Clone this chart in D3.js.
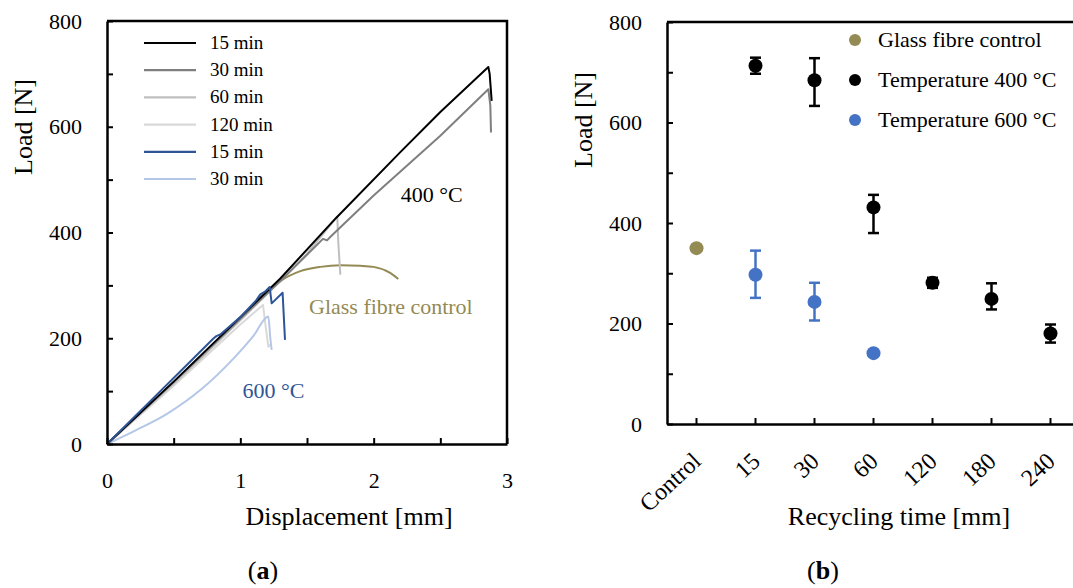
<!DOCTYPE html>
<html><head><meta charset="utf-8">
<script src="https://cdn.jsdelivr.net/npm/d3@7"></script>
<style>
body{margin:0;background:#fff;}
svg{display:block;font-family:'Liberation Serif','Times New Roman',serif;}
</style></head><body>
<svg id="chart" width="1073" height="588"></svg>
<script>
// ---------- Panel (a): load-displacement curves [displacement mm, load N] ----------
const curve400_15 = [[0,0],[0.5,118],[1,240],[1.3,313],[1.72,428],[2.2,552],[2.5,628],[2.86,713],[2.87,700],[2.885,649]];
const curve400_30 = [[0,0],[0.5,117],[1,237],[1.3,308],[1.62,388],[1.65,385],[1.68,393],[2,470],[2.5,583],[2.86,671],[2.875,640],[2.88,589]];
const curve400_60 = [[0,0],[0.5,114],[1,234],[1.3,308],[1.5,360],[1.727,430],[1.735,380],[1.75,320]];
const curve400_120 = [[0,0],[0.5,110],[1,226],[1.17,263],[1.19,222],[1.21,184],[1.235,190]];
const curve600_15 = [[0,0],[0.3,75],[0.6,150],[0.8,200],[0.82,204],[0.85,207],[1.0,240],[1.12,272],[1.15,283],[1.185,288],[1.22,297],[1.235,266],[1.317,286],[1.335,197]];
const curve600_30 = [[0,0],[0.2,24],[0.45,57],[0.7,102],[0.95,162],[1.1,205],[1.21,241],[1.225,200],[1.235,178]];
const curveControl = [[0,0],[0.5,114],[1,236],[1.2,287],[1.3,308],[1.45,327],[1.6,335],[1.75,338],[1.9,337],[2.0,335],[2.12,324],[2.185,312]];
const legendA = ["15 min","30 min","60 min","120 min","15 min","30 min"];
const xTicksA = [0,0.5,1,1.5,2,2.5,3];
const yTicksA = [0,100,200,300,400,500,600,700,800];

// ---------- Panel (b): load vs recycling time ----------
const categoriesB = ["Control","15","30","60","120","180","240"];
const controlCat = ["Control"];
const controlLoad = [350];
const t400Cat = ["15","30","60","120","180","240"];
const t400Mean = [713,684,431,281,249,180];
const t400Low = [697,633,380,271,228,162];
const t400High = [729,728,456,291,280,198];
const t600Cat = ["15","30","60"];
const t600Mean = [297,243,141];
const t600Low = [251,206,141];
const t600High = [345,281,141];
const legendB = ["Glass fibre control","Temperature 400 °C","Temperature 600 °C"];
const yTicksB = [0,100,200,300,400,500,600,700,800];

const svg = d3.select("#chart");
const AX = 2.5;

// ===== Panel (a) =====
const xA = d3.scaleLinear().domain([0,3]).range([107,507]);
const yA = d3.scaleLinear().domain([0,800]).range([444,21]);
const gA = svg.append("g");

const lineA = d3.line().x(d=>xA(d[0])).y(d=>yA(d[1]));
const lineSmooth = d3.line().x(d=>xA(d[0])).y(d=>yA(d[1])).curve(d3.curveMonotoneX);
const curvesA = [
  {data:curveControl, color:"#948a54", smooth:true},
  {data:curve400_120, color:"#d9d9d9"},
  {data:curve400_60, color:"#bfbfbf"},
  {data:curve600_30, color:"#b4c7e7", smooth:true},
  {data:curve400_30, color:"#7f7f7f"},
  {data:curve400_15, color:"#000000"},
  {data:curve600_15, color:"#2f5597"}
];
gA.selectAll("path.curve").data(curvesA).join("path").attr("class","curve")
  .attr("d",d=>(d.smooth?lineSmooth:lineA)(d.data)).attr("fill","none").attr("stroke",d=>d.color)
  .attr("stroke-width",2).attr("stroke-linejoin","round");

// frame
gA.append("path").attr("d",`M${xA(0)},${yA(800)}H${xA(3)}V${yA(0)}`)
  .attr("fill","none").attr("stroke","#000").attr("stroke-width",AX);

const yAxisA = d3.axisLeft(yA).tickValues(yTicksA).tickSize(-6).tickSizeOuter(0).tickPadding(25)
  .tickFormat(d=>d%200===0?d:"");
gA.append("g").attr("class","axis").attr("transform",`translate(${xA(0)},0)`).call(yAxisA);
const xAxisA = d3.axisBottom(xA).tickValues(xTicksA).tickSize(-6).tickSizeOuter(0).tickPadding(28)
  .tickFormat(d=>Number.isInteger(d)?d:"");
gA.append("g").attr("class","axis").attr("transform",`translate(0,${yA(0)})`).call(xAxisA);

// legend (a)
const legColorsA = ["#000000","#7f7f7f","#bfbfbf","#d9d9d9","#2f5597","#b4c7e7"];
const legA = gA.append("g");
legendA.forEach((t,i)=>{
  const y = 43 + i*27.2;
  legA.append("line").attr("x1",144).attr("x2",196).attr("y1",y).attr("y2",y)
    .attr("stroke",legColorsA[i]).attr("stroke-width",2.2);
  legA.append("text").attr("x",210).attr("y",y).attr("dy","0.32em")
    .attr("font-size",19).attr("fill","#000").text(t);
});

gA.append("text").attr("x",400.7).attr("y",201.7).attr("font-size",22).text("400 °C");
gA.append("text").attr("x",309).attr("y",314).attr("font-size",22).attr("fill","#948a54").text("Glass fibre control");
gA.append("text").attr("x",242.5).attr("y",398).attr("font-size",22).attr("fill","#2f5597").text("600 °C");

gA.append("text").attr("transform","translate(32,127) rotate(-90)").attr("text-anchor","middle")
  .attr("font-size",26).text("Load [N]");
gA.append("text").attr("x",349).attr("y",525).attr("text-anchor","middle")
  .attr("font-size",26).text("Displacement [mm]");
const capA = gA.append("text").attr("x",263).attr("y",579).attr("text-anchor","middle").attr("font-size",26);
capA.append("tspan").text("(");
capA.append("tspan").attr("font-weight","bold").text("a");
capA.append("tspan").text(")");

// ===== Panel (b) =====
const xB = d3.scaleBand().domain(categoriesB).range([667,667+7*59]).padding(0);
const yB = d3.scaleLinear().domain([0,800]).range([424,22]);
const gB = svg.append("g");
const cx = c => xB(c)+xB.bandwidth()/2;

gB.append("path").attr("d",`M${xB.range()[0]},${yB(800)}H${xB.range()[1]}`)
  .attr("fill","none").attr("stroke","#000").attr("stroke-width",AX);

const yAxisB = d3.axisLeft(yB).tickValues(yTicksB).tickSize(-6).tickSizeOuter(0).tickPadding(25)
  .tickFormat(d=>d%200===0?d:"");
gB.append("g").attr("class","axis").attr("transform",`translate(${xB.range()[0]},0)`).call(yAxisB);
const xAxisB = d3.axisBottom(xB).tickSize(-6).tickSizeOuter(0);
const xgB = gB.append("g").attr("class","axis xrot").attr("transform",`translate(0,${yB(0)})`).call(xAxisB);

// error bars
function errBars(cats, lo, hi, color){
  const g = gB.append("g").attr("stroke",color).attr("stroke-width",2.5).attr("fill","none");
  cats.forEach((c,i)=>{
    if (hi[i]-lo[i] < 1) return;
    const x = cx(c);
    g.append("line").attr("x1",x).attr("x2",x).attr("y1",yB(lo[i])).attr("y2",yB(hi[i]));
    g.append("line").attr("x1",x-5.5).attr("x2",x+5.5).attr("y1",yB(lo[i])).attr("y2",yB(lo[i]));
    g.append("line").attr("x1",x-5.5).attr("x2",x+5.5).attr("y1",yB(hi[i])).attr("y2",yB(hi[i]));
  });
}
errBars(t400Cat,t400Low,t400High,"#000");
errBars(t600Cat,t600Low,t600High,"#4472c4");

gB.append("g").selectAll("circle").data(controlCat).join("circle")
  .attr("cx",d=>cx(d)).attr("cy",(d,i)=>yB(controlLoad[i])).attr("r",7).attr("fill","#948a54");
gB.append("g").selectAll("circle").data(t400Cat).join("circle")
  .attr("cx",d=>cx(d)).attr("cy",(d,i)=>yB(t400Mean[i])).attr("r",7).attr("fill","#000");
gB.append("g").selectAll("circle").data(t600Cat).join("circle")
  .attr("cx",d=>cx(d)).attr("cy",(d,i)=>yB(t600Mean[i])).attr("r",7).attr("fill","#4472c4");

// legend (b)
const legColorsB = ["#948a54","#000000","#4472c4"];
legendB.forEach((t,i)=>{
  const y = 40 + i*40;
  gB.append("circle").attr("cx",855).attr("cy",y).attr("r",6).attr("fill",legColorsB[i]);
  gB.append("text").attr("x",878).attr("y",y).attr("dy","0.3em").attr("font-size",22).text(t);
});

gB.append("text").attr("transform","translate(592,120) rotate(-90)").attr("text-anchor","middle")
  .attr("font-size",26).text("Load [N]");
gB.append("text").attr("x",899).attr("y",525).attr("text-anchor","middle")
  .attr("font-size",26).text("Recycling time [mm]");
const capB = gB.append("text").attr("x",823).attr("y",579).attr("text-anchor","middle").attr("font-size",26);
capB.append("tspan").text("(");
capB.append("tspan").attr("font-weight","bold").text("b");
capB.append("tspan").text(")");

// axis styling
svg.selectAll(".domain").attr("stroke","#000").attr("stroke-width",AX);
svg.selectAll(".tick line").attr("stroke","#000").attr("stroke-width",2);
svg.selectAll(".tick text").attr("font-size",22).attr("fill","#000")
  .attr("font-family","'Liberation Serif','Times New Roman',serif");
xgB.selectAll(".tick text").attr("x",0).attr("y",0).attr("dy",0).attr("font-size",24)
  .attr("text-anchor","end").attr("transform","translate(6,39) rotate(-43)");
</script>
</body></html>
